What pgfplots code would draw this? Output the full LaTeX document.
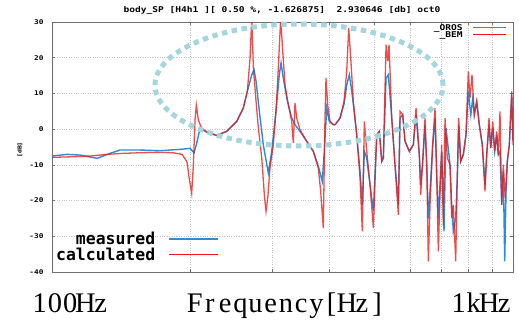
\documentclass[border=0pt]{standalone}
\usepackage{pgfplots}
\pgfplotsset{compat=1.18}
\usepackage{pgfplotstable}
\usepackage{fontspec}
\setmainfont{Liberation Serif}
\setmonofont{DejaVu Sans Mono}
\newfontfamily\gp[FakeStretch=1.2]{DejaVu Sans Mono}
\definecolor{oros}{RGB}{45,140,215}
\definecolor{bem}{RGB}{235,25,25}
\definecolor{ell}{RGB}{165,214,222}
\definecolor{gridc}{RGB}{195,195,195}
\definecolor{framec}{RGB}{110,110,110}
\newcommand\mc[1]{\makebox[15.2bp][c]{#1}}

\pgfplotstableread{
f dB
100 -7.53
107.8 -7.06
115.0 -7.25
125.2 -8.18
133.6 -6.78
140.4 -5.85
155.2 -5.85
171.5 -6.05
189.5 -5.66
199.2 -5.38
203.3 -6.61
206.0 -3.98
208.7 -0.73
212.9 -0.25
218.3 -1.18
227.6 -1.74
239.3 -0.62
251.6 2.18
260.0 5.91
265.3 10.59
271.2 15.23
274.3 16.63
277.1 13.39
281.7 4.98
287.3 -4.37
294.6 -12.29
299.7 -6.22
306.1 4.98
311.2 15.23
313.9 18.51
317.5 14.31
323.0 8.71
331.1 3.11
336.6 1.23
345.1 -0.62
356.9 -3.42
368.9 -6.22
378.2 -10.42
385.8 -14.62
389.7 -6.22
394.4 5.91
399.5 2.18
407.6 1.23
411.1 1.23
421.5 3.11
430.0 7.03
435.8 12.35
441.5 15.23
446.9 10.59
450.4 7.03
458.1 -1.57
465.8 -11.82
471.1 -21.17
475.9 -6.22
481.6 -8.09
489.6 -15.57
497.8 -23.02
506.3 -1.57
512.9 -0.62
519.1 -9.02
523.3 -8.09
530.4 14.31
536.5 15.23
545.7 3.11
554.7 -9.97
564.0 -21.17
568.8 3.11
576.5 4.03
583.2 -3.42
595.8 -6.22
607.8 -4.37
616.1 4.03
626.3 -7.17
630.7 -15.57
637.0 -9.02
644.4 1.23
649.9 -9.97
655.1 -24.90
660.7 -17.42
669.6 -4.37
677.4 3.11
683.2 -12.77
688.6 -24.90
694.5 -15.57
700.4 -6.22
708.5 -28.62
715.6 0.31
730.1 -9.97
736.3 -21.17
742.2 -28.62
751.1 -24.90
757.1 -13.69
762.4 1.23
770.1 -9.02
780.2 -7.17
790.8 -1.57
799.9 10.59
810.0 4.03
818.1 8.71
824.2 4.03
834.2 7.78
845.1 1.23
857.8 -4.37
869.5 -15.57
876.9 -7.17
887.0 1.23
894.6 -5.29
903.6 0.31
912.6 -6.22
921.8 -1.57
929.2 -7.17
937.1 -6.22
945.1 -21.17
952.7 -11.82
959.4 -37.02
965.7 -17.42
971.9 -9.02
981.7 -4.37
993.5 9.63
1000 -3.42
}\orostab

\pgfplotstableread{
f dB
100 -7.90
111.1 -7.73
120.9 -7.53
131.6 -7.06
142.6 -6.78
155.2 -6.61
168.9 -6.50
183.0 -6.61
191.4 -7.06
196.3 -9.13
198.2 -13.33
200.9 -17.98
202.5 -10.53
204.3 2.55
205.6 6.75
207.7 2.55
211.2 0.22
216.6 -0.73
220.2 -1.09
227.6 -1.74
239.3 -0.62
251.6 2.18
260.0 5.91
265.3 10.59
268.9 19.91
271.2 31.1
273.4 17.11
277.1 7.78
280.3 0.31
285.1 -8.09
288.8 -18.37
291.2 -23.02
293.7 -19.29
297.1 -10.89
302.0 -4.37
306.1 4.98
309.7 17.11
313.4 31.1
316.6 21.79
320.2 12.43
325.5 6.83
331.1 2.18
333.8 -3.89
336.6 7.31
339.5 3.11
345.1 -0.17
356.9 -3.42
368.9 -6.22
378.2 -10.89
382.7 -17.42
387.7 -27.70
391.0 3.11
393.0 14.31
396.3 6.83
400.9 2.18
407.6 1.23
411.1 1.23
421.5 3.11
430.0 7.78
435.8 16.19
440.2 28.31
444.6 19.91
450.4 7.78
458.1 -1.57
465.8 -13.69
471.1 -28.62
475.9 2.18
481.6 -6.22
489.6 -15.57
497.8 -27.70
506.3 -1.57
512.9 -0.62
519.1 -9.02
523.3 -8.09
530.4 23.63
534.9 18.99
538.4 23.63
545.7 3.11
554.7 -9.97
564.0 -23.97
568.8 4.98
576.5 4.03
583.2 -3.42
595.8 -6.22
607.8 -4.37
616.1 5.91
621.3 -0.62
626.3 -7.17
630.7 -18.37
637.0 -9.02
644.4 3.11
649.9 -9.97
655.1 -37.02
660.7 -21.17
669.6 -4.37
677.4 5.91
683.2 -12.77
688.6 -34.22
694.5 -18.37
700.4 -4.37
706.0 -26.77
712.1 3.11
720.3 -8.09
730.1 -9.97
736.3 -24.90
742.2 -21.17
751.1 -37.00
757.1 -13.69
762.4 3.11
770.1 -9.02
780.2 -7.17
790.8 -1.57
799.9 16.19
806.7 8.71
814.8 15.23
824.2 4.03
834.2 7.78
845.1 1.23
857.8 -4.37
869.5 -17.42
876.9 -7.17
887.0 3.11
894.6 -5.29
903.6 2.18
912.6 -6.22
921.8 -0.62
929.2 -7.17
937.1 4.98
945.1 -21.17
952.7 -9.97
962.2 -19.29
971.9 -9.02
981.7 -4.37
993.5 10.59
1000 -4.37
}\bemtab

\begin{document}
\begin{tikzpicture}
\useasboundingbox (0bp,0bp) rectangle (519bp,320bp);
\begin{axis}[
  at={(52bp,48bp)}, anchor=south west,
  scale only axis, width=461bp, height=250bp,
  xmode=log, xmin=100, xmax=1000, ymin=-40, ymax=30,
  xtick={200,300,400,500,600,700,800,900}, xticklabels={},
  ytick={-40,-30,-20,-10,0,10,20,30},
  grid=major, major grid style={gridc, dotted, line width=0.7bp},
  axis line style={framec, line width=0.8bp},
  tick style={framec, line width=0.6bp}, tick align=inside, major tick length=3bp,
  /pgf/number format/assume math mode=true,
  yticklabel style={font=\gp\bfseries\fontsize{6.5}{6.5}\selectfont, xshift=-5bp},
  legend cell align=right, legend plot pos=right,
  legend style={draw=none, fill=none, at={(1,1)}, anchor=north east,
    xshift=-6bp, yshift=-2bp, inner sep=0pt,
    font=\gp\bfseries\fontsize{8}{8}\selectfont,
    nodes={inner xsep=1bp, inner ysep=1bp, text height=5bp, text depth=0bp}},
  legend image code/.code={\path (0bp,0bp); \draw[#1, opacity=1, line width=0.9bp] (9bp,0bp) -- (42bp,0bp);},
]
\addplot[oros, line width=1.4bp] table[x=f, y=dB] {\orostab};
\addlegendentry{\_OROS}
\addplot[bem, line width=1.3bp, opacity=0.78] table[x=f, y=dB] {\bemtab};
\addlegendentry{\_BEM}
\end{axis}

\begin{axis}[
  at={(52bp,48bp)}, anchor=south west,
  scale only axis, width=461bp, height=250bp,
  hide axis, xmin=0, xmax=1, ymin=0, ymax=1,
  legend cell align=right, legend plot pos=right,
  legend style={draw=none, fill=none, at={(0,0)}, anchor=south west,
    xshift=2bp, yshift=9.5bp, inner sep=0pt,
    font=\ttfamily\bfseries\fontsize{16.5}{16.5}\selectfont,
    nodes={inner xsep=2bp, inner ysep=2bp, text height=11.5bp, text depth=0bp}},
  legend image code/.code={\path (0bp,0bp); \draw[#1] (11bp,0bp) -- (60bp,0bp);},
]
\addlegendimage{draw=oros, line width=1.8bp}
\addlegendentry{measured}
\addlegendimage{draw=bem, line width=1.8bp}
\addlegendentry{calculated}
\end{axis}

\draw[ell, line width=5bp, dash pattern=on 5.5bp off 4.5bp] (299bp,235bp) ellipse [x radius=144bp, y radius=61bp];

\node[font=\gp\bfseries\fontsize{8}{8}\selectfont, inner sep=0pt] at (282bp,310bp)
  {body\_SP [H4h1 ][ 0.50 \%, -1.626875]~ 2.930646 [db] oct0};
\node[font=\gp\bfseries\fontsize{5.5}{5.5}\selectfont, inner sep=0pt, rotate=90] at (20bp,170bp) {[dB]};
\node[anchor=base west, inner sep=0pt, font=\fontsize{28.5}{30}\selectfont] at (32bp,8bp) {\mc{1}\mc{0}\mc{0}\mc{H}\mc{z}};
\node[anchor=base west, inner sep=0pt, font=\fontsize{28.5}{30}\selectfont] at (187bp,8bp) {\mc{F}\mc{r}\mc{e}\mc{q}\mc{u}\mc{e}\mc{n}\mc{c}\mc{y}\mc{[}\mc{H}\mc{z}\mc{]}};
\node[anchor=base east, inner sep=0pt, font=\fontsize{28.5}{30}\selectfont] at (512bp,8bp) {\mc{1}\mc{k}\mc{H}\mc{z}};
\end{tikzpicture}
\end{document}
